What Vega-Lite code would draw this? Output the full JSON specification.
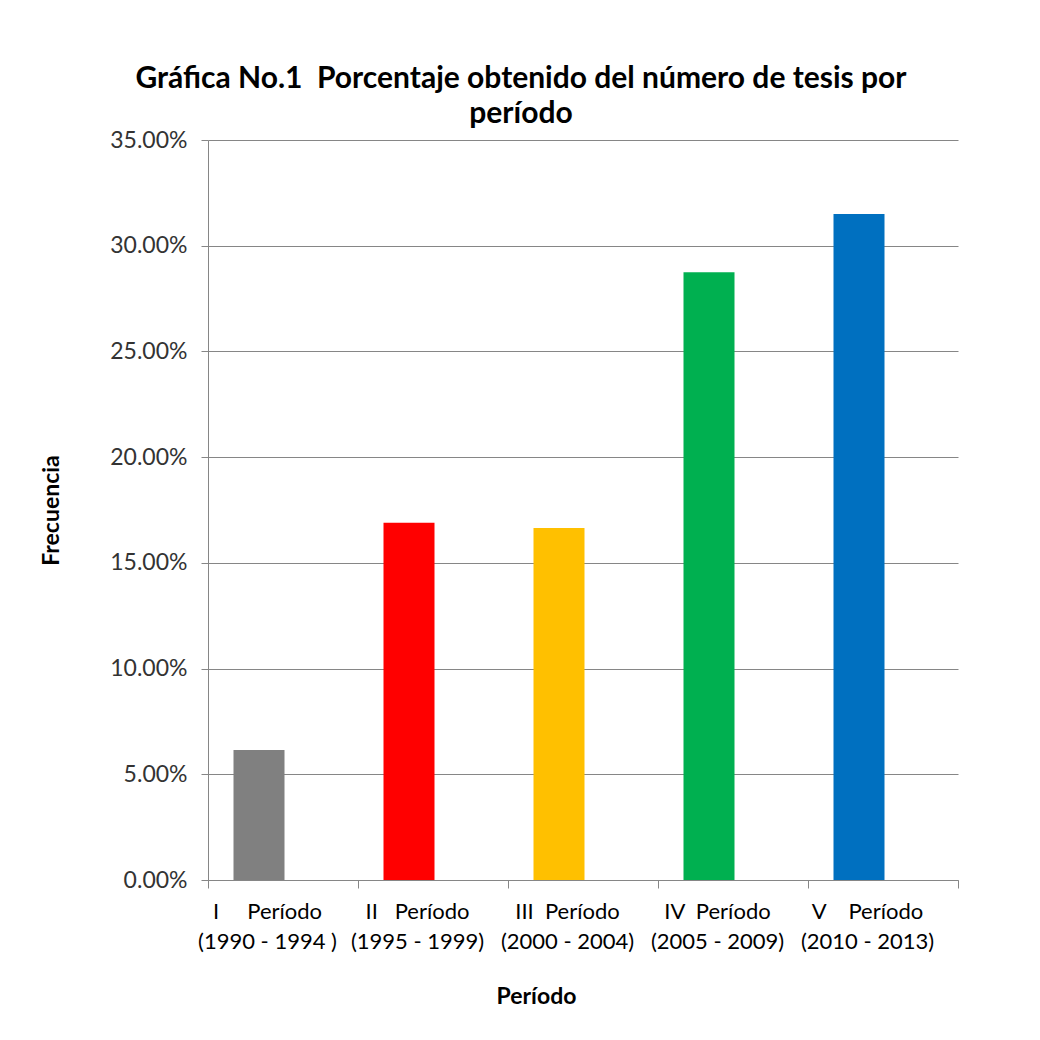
{
  "$schema": "https://vega.github.io/schema/vega-lite/v6.json",
  "width": 750,
  "height": 740,
  "autosize": {"type": "none"},
  "padding": {"left": 208, "top": 140, "right": 82, "bottom": 160},
  "background": "white",
  "title": {
    "text": ["Gráfica No.1\u00a0\u00a0Porcentaje obtenido del número de tesis por", "período"],
    "font": "Lato",
    "fontSize": 30,
    "fontWeight": "bold",
    "color": "#000000",
    "anchor": "middle",
    "baseline": "alphabetic",
    "dx": -62,
    "offset": -24,
    "lineHeight": 35
  },
  "data": {
    "values": [
      {"periodo": "I\u00a0\u00a0\u00a0\u00a0\u00a0Período\n(1990 - 1994 )", "porcentaje": 0.0615, "color": "#808080"},
      {"periodo": "II\u00a0\u00a0\u00a0Período\n(1995 - 1999)", "porcentaje": 0.169, "color": "#FF0000"},
      {"periodo": "III\u00a0\u00a0Período\n(2000 - 2004)", "porcentaje": 0.1665, "color": "#FFC000"},
      {"periodo": "IV\u00a0\u00a0Período\n(2005 - 2009)", "porcentaje": 0.2875, "color": "#00B050"},
      {"periodo": "V\u00a0\u00a0\u00a0\u00a0Período\n(2010 - 2013)", "porcentaje": 0.315, "color": "#0070C0"}
    ]
  },
  "mark": {"type": "bar", "width": {"band": 0.34}, "xOffset": -24},
  "encoding": {
    "x": {
      "field": "periodo",
      "type": "nominal",
      "sort": null,
      "scale": {"paddingInner": 0, "paddingOuter": 0},
      "axis": {
        "title": "Período",
        "titleFont": "Lato",
        "titleFontSize": 23,
        "titleFontWeight": "bold",
        "titleColor": "#000000",
        "titleX": 328,
        "titleY": 105,
        "labelExpr": "split(datum.label, '\\n')",
        "labelAngle": 0,
        "labelFont": "Lato",
        "labelFontSize": 22,
        "labelColor": "#000000",
        "labelLineHeight": 30,
        "labelPadding": 13,
        "labelOffset": -16,
        "tickBand": "extent",
        "tickSize": 8,
        "tickColor": "#868686",
        "domainColor": "#868686",
        "grid": false
      }
    },
    "y": {
      "field": "porcentaje",
      "type": "quantitative",
      "scale": {"domain": [0, 0.35]},
      "axis": {
        "title": "Frecuencia",
        "titleFont": "Lato",
        "titleFontSize": 23,
        "titleFontWeight": "bold",
        "titleColor": "#000000",
        "titlePadding": 46,
        "values": [0, 0.05, 0.1, 0.15, 0.2, 0.25, 0.3, 0.35],
        "format": ".2%",
        "labelFont": "Lato",
        "labelFontSize": 23,
        "labelColor": "#333333",
        "labelPadding": 14,
        "tickSize": 7,
        "tickColor": "#868686",
        "domainColor": "#868686",
        "grid": true,
        "gridColor": "#868686",
        "gridWidth": 1
      }
    },
    "color": {"field": "color", "type": "nominal", "scale": null, "legend": null}
  },
  "config": {"view": {"stroke": null}}
}
